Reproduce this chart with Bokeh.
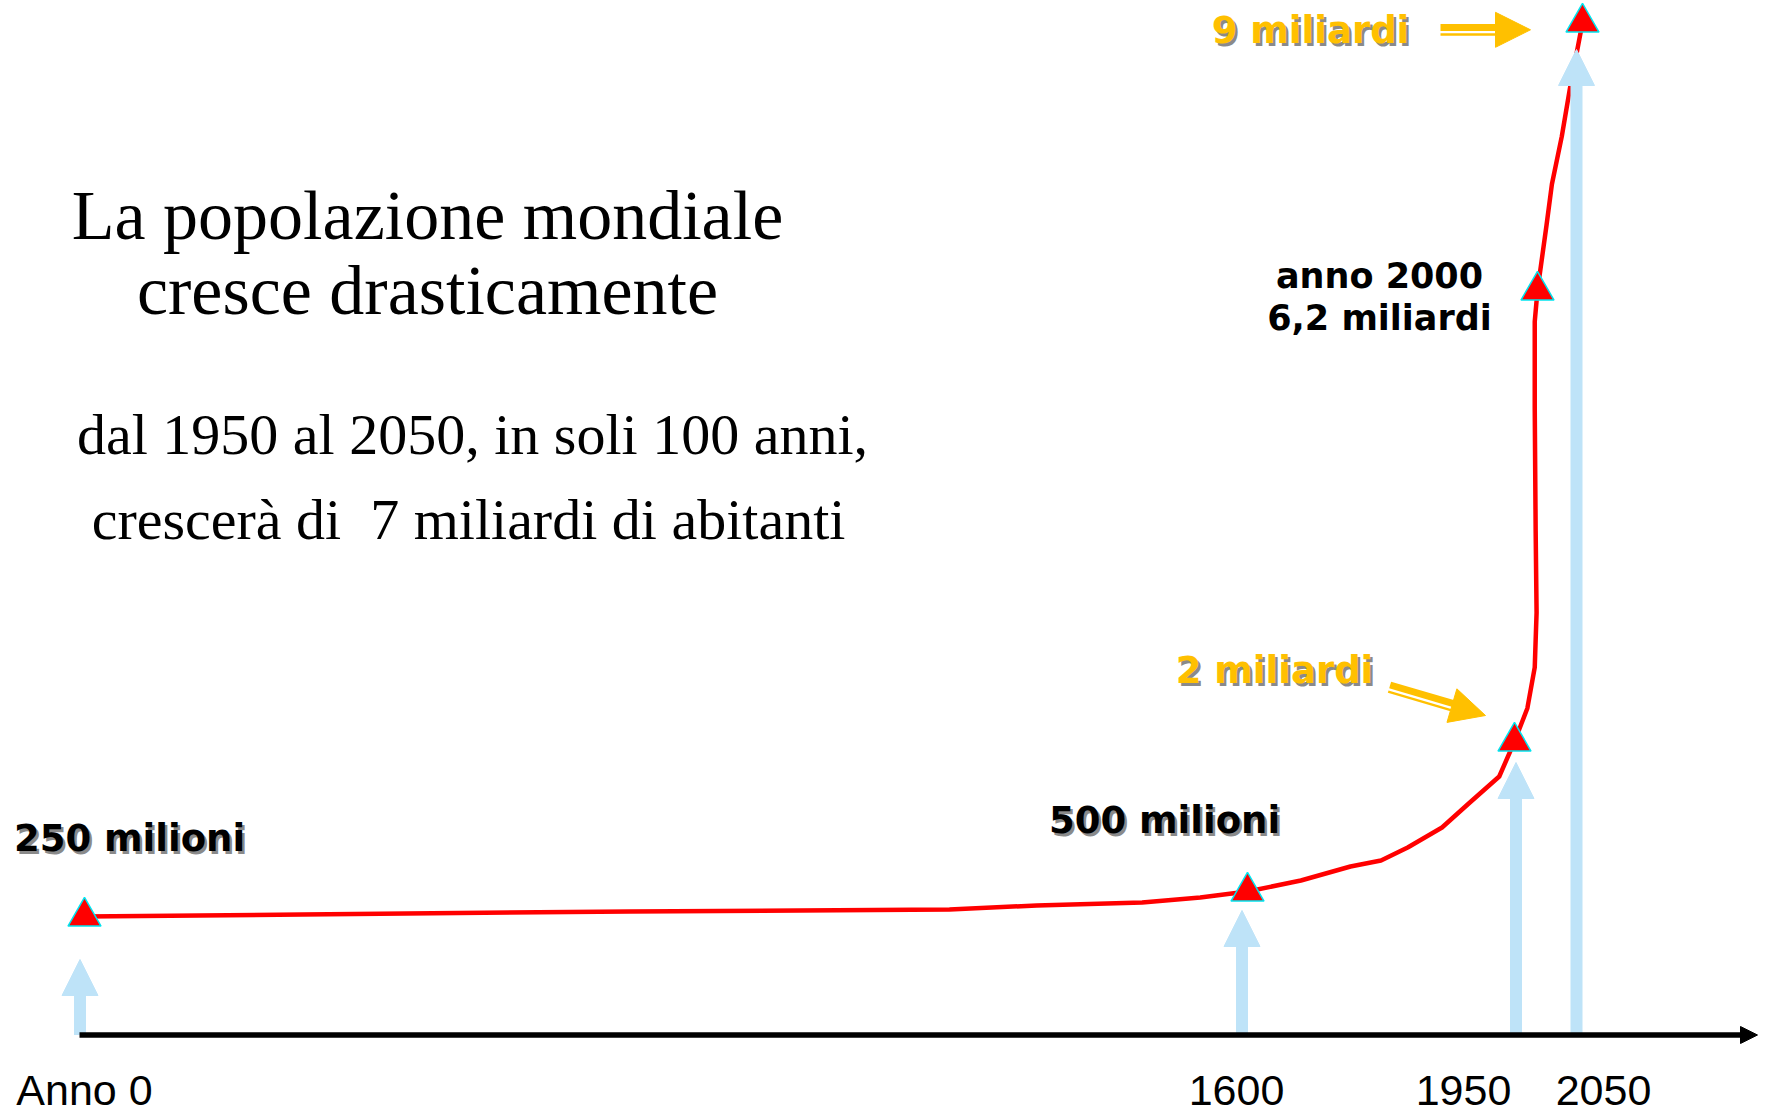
import numpy as np
from bokeh.plotting import figure
from bokeh.models import Range1d, Label, Arrow, NormalHead
from bokeh.embed import file_html
from bokeh.resources import INLINE

# ---------------- data ----------------
curve_year = [0, 300, 750, 1190, 1310, 1455, 1535, 1600, 1670, 1735, 1775, 1810,
              1855, 1890, 1930, 1950, 1978, 1994, 1998, 1996, 1994, 1994, 2000,
              2010, 2016, 2027, 2036, 2050]
curve_pop = [0.25, 0.27, 0.30, 0.32, 0.36, 0.39, 0.44, 0.50, 0.61, 0.75, 0.81, 0.94,
             1.14, 1.38, 1.65, 2.00, 2.31, 2.69, 3.20, 3.96, 5.11, 5.91, 6.20,
             6.88, 7.31, 7.81, 8.31, 9.00]

marker_year = [0, 1600, 1950, 2000, 2050]
marker_pop = [0.25, 0.5, 2.0, 6.2, 9.0]

arrow_year = [0, 1600, 1950, 2050]
arrow_pop = [0.25, 0.5, 2.0, 9.0]

tick_labels = ["Anno 0", "1600", "1950", "2050"]

# ---------------- scales / layout ----------------
# the slide is drawn with non-uniform scales: anchor values -> position
ANCHOR_YEARS = [0, 1600, 1950, 2000, 2050]
ANCHOR_X = [84, 1247, 1514, 1537, 1582]
ANCHOR_POP = [0.25, 0.5, 2.0, 6.2, 9.0]
ANCHOR_Y = [916, 891, 741, 290, 22]      # measured from the top

W, H = 1768, 1118
AXIS_Y = 1034.5


def xpos(years):
    return np.interp(np.asarray(years, dtype=float), ANCHOR_YEARS, ANCHOR_X)


def ypos(pops):
    return H - np.interp(np.asarray(pops, dtype=float), ANCHOR_POP, ANCHOR_Y)


def sx(X):
    return X


def sy(Y):
    return H - Y


p = figure(width=W, height=H, x_range=Range1d(0, W), y_range=Range1d(0, H),
           output_backend="svg", toolbar_location=None,
           x_axis_location=None, y_axis_location=None, min_border=0,
           outline_line_color=None, background_fill_color="white",
           border_fill_color="white")
p.grid.visible = False

GOLD = "#FFC000"
BLUE = "#BEE3F8"
SERIF = "Liberation Serif"
BOLD = "DejaVu Sans"

# red population curve
p.line(xpos(curve_year), ypos(curve_pop), line_color="#FF0000", line_width=4.5,
       line_join="round", line_cap="round")

# blue arrows pointing to the markers
arrow_dx = [-4.5, -5.5, 1.5, -6]       # small horizontal offsets (px)
arrow_gap = [43, 19, 21, 27]           # gap below the marker (px)
ax_ = xpos(arrow_year)
ay_ = ypos(arrow_pop)
for x0, y0, dx, gap in zip(ax_, ay_, arrow_dx, arrow_gap):
    x = float(x0) + dx
    p.add_layout(Arrow(end=NormalHead(size=36, fill_color=BLUE, line_color=BLUE, line_width=1),
                       x_start=x, y_start=sy(AXIS_Y), x_end=x, y_end=float(y0) - gap,
                       line_color=BLUE, line_width=12))

# markers
p.scatter(xpos(marker_year), ypos(marker_pop), marker="triangle", size=33,
          fill_color="#FF0000", line_color="#00E5F0", line_width=1.5)

# horizontal time axis arrow
p.add_layout(Arrow(end=NormalHead(size=17, fill_color="black", line_color="black", line_width=1),
                   x_start=sx(79), y_start=sy(AXIS_Y), x_end=sx(1757), y_end=sy(AXIS_Y),
                   start_units="screen", end_units="screen",
                   line_color="black", line_width=5.5))


def gold_arrow(x0, y0, x1, y1):
    d = np.array([x1 - x0, y1 - y0], dtype=float)
    d /= np.hypot(*d)
    n = np.array([-d[1], d[0]])
    base = np.array([x1, y1]) - 34 * d
    for off, lw in ((-2.3, 7), (4.7, 2.3)):
        a = np.array([x0, y0]) + off * n
        b = base + off * n
        p.add_layout(Arrow(end=None, x_start=sx(a[0]), y_start=sy(a[1]),
                           x_end=sx(b[0]), y_end=sy(b[1]),
                           start_units="screen", end_units="screen",
                           line_color=GOLD, line_width=lw))
    b0 = base - 2 * d
    p.add_layout(Arrow(end=NormalHead(size=35, fill_color=GOLD, line_color=GOLD, line_width=1),
                       x_start=sx(b0[0]), y_start=sy(b0[1]), x_end=sx(x1), y_end=sy(y1),
                       start_units="screen", end_units="screen",
                       line_alpha=0, line_width=1))


gold_arrow(1440, 29.3, 1530, 29.3)
gold_arrow(1389, 686.7, 1485, 715)

BASELINE_FIX = 0.35   # compensates the label box offset of the renderer


def text(X, Y, s, font, size, color="black", style="normal", align="left", shadow=False):
    fs = float(size.replace("px", ""))
    Y = Y - BASELINE_FIX * fs
    if shadow:
        p.add_layout(Label(x=sx(X) + 2.5, y=sy(Y) - 2.5, x_units="screen", y_units="screen",
                           text=s, text_font=font, text_font_size=size, text_font_style=style,
                           text_color="#3a3a3a", text_alpha=0.6, text_align=align,
                           text_baseline="alphabetic"))
    p.add_layout(Label(x=sx(X), y=sy(Y), x_units="screen", y_units="screen",
                       text=s, text_font=font, text_font_size=size, text_font_style=style,
                       text_color=color, text_align=align, text_baseline="alphabetic"))


# title and subtitle
text(427, 239, "La popolazione mondiale", SERIF, "70px", align="center")
text(427, 314, "cresce drasticamente", SERIF, "70px", align="center")
text(472, 454, "dal 1950 al 2050, in soli 100 anni,", SERIF, "58px", align="center")
text(468, 539, "crescerà di \u00a07 miliardi di abitanti", SERIF, "58px", align="center")

# data annotations
text(129, 851, "250 milioni", BOLD, "37px", style="bold", align="center", shadow=True)
text(1164, 833, "500 milioni", BOLD, "37px", style="bold", align="center", shadow=True)
text(1274, 683, "2 miliardi", BOLD, "37px", color=GOLD, style="bold", align="center", shadow=True)
text(1310, 43, "9 miliardi", BOLD, "37px", color=GOLD, style="bold", align="center", shadow=True)
text(1379, 288, "anno 2000", BOLD, "35px", style="bold", align="center")
text(1379, 330, "6,2 miliardi", BOLD, "35px", style="bold", align="center")

# time axis labels
label_x = [84, 1236, 1463, 1603]
for lx, s in zip(label_x, tick_labels):
    text(lx, 1105, s, "Liberation Sans", "43px", align="center")

open("out.html", "w").write(file_html(p, INLINE))
